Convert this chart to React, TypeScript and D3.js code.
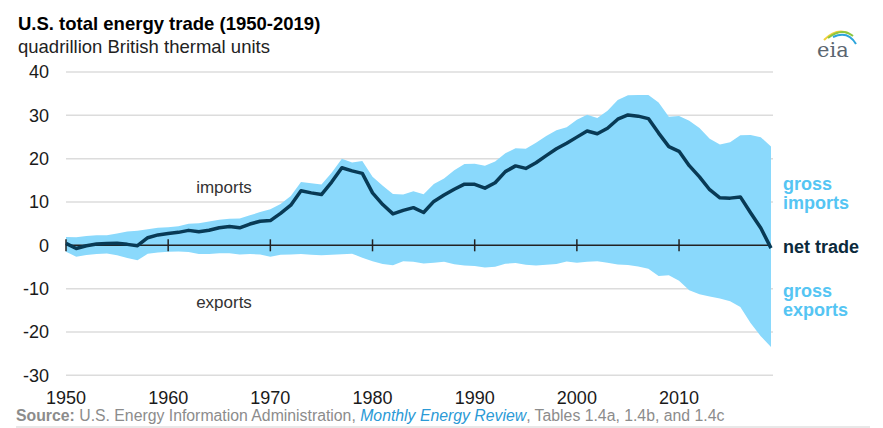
import * as d3 from "d3"

// gross imports, gross exports and net trade, quadrillion Btu, 1950-2019
const startYear = 1950
const imports = [
  1.91, 1.89, 2.15, 2.3, 2.32, 2.75, 3.17, 3.34, 3.72, 4.08,
  4.19, 4.41, 5.0, 5.12, 5.48, 5.89, 6.15, 6.16, 6.91, 7.68,
  8.34, 9.54, 11.39, 14.61, 14.3, 14.03, 16.76, 19.95, 19.11, 19.46,
  15.8, 13.72, 11.86, 11.75, 12.47, 11.78, 14.15, 15.4, 17.3, 18.77,
  18.82, 18.34, 19.37, 21.27, 22.39, 22.26, 23.7, 25.22, 26.58, 27.25,
  28.97, 30.16, 29.41, 31.06, 33.54, 34.66, 34.68, 34.68, 32.97, 29.69,
  29.87, 28.75, 27.07, 24.62, 23.24, 23.79, 25.38, 25.45, 24.94, 22.81,
]
const exports = [
  1.47, 2.62, 2.25, 1.99, 1.89, 2.29, 2.95, 3.44, 1.96, 1.68,
  1.48, 1.41, 1.54, 1.98, 1.99, 1.83, 1.83, 2.12, 2.0, 2.13,
  2.63, 2.15, 2.12, 2.03, 2.2, 2.32, 2.17, 2.05, 1.92, 2.86,
  3.7, 4.31, 4.61, 3.69, 3.79, 4.2, 4.02, 3.81, 4.37, 4.66,
  4.75, 5.14, 4.94, 4.26, 4.06, 4.51, 4.63, 4.51, 4.3, 3.72,
  4.01, 3.77, 3.67, 4.05, 4.43, 4.56, 4.87, 5.43, 7.07, 6.92,
  8.18, 10.37, 11.27, 11.79, 12.27, 12.9, 14.21, 17.94, 20.96, 23.46,
]
const netTrade = [
  0.45, -0.73, -0.11, 0.31, 0.43, 0.47, 0.22, -0.1, 1.76, 2.4,
  2.71, 2.99, 3.45, 3.14, 3.49, 4.06, 4.32, 4.04, 4.91, 5.55,
  5.71, 7.38, 9.27, 12.58, 12.1, 11.71, 14.59, 17.9, 17.19, 16.6,
  12.1, 9.41, 7.25, 8.06, 8.69, 7.58, 10.13, 11.59, 12.93, 14.11,
  14.07, 13.19, 14.44, 17.01, 18.33, 17.75, 19.07, 20.7, 22.28, 23.54,
  24.97, 26.39, 25.74, 27.01, 29.11, 30.1, 29.81, 29.25, 25.9, 22.77,
  21.69, 18.38, 15.8, 12.83, 10.97, 10.89, 11.17, 7.51, 3.98, -0.65,
]
const yTicks = [40, 30, 20, 10, 0, -10, -20, -30]
const xTicks = [1950, 1960, 1970, 1980, 1990, 2000, 2010]

const areaColor = "#8ad9fc"
const labelBlue = "#55c5f3"
const netColor = "#083a55"

interface Row {
  year: number
  imp: number
  exp: number
  net: number
}

const rows: Row[] = imports.map((v, i) => ({
  year: startYear + i,
  imp: v,
  exp: exports[i],
  net: netTrade[i],
}))

const App = () => {
  const width = 883
  const height = 428

  const x = d3.scaleLinear().domain([1950, 2019]).range([66, 771])
  const y = d3.scaleLinear().domain([40, -30]).range([72, 375.3])

  const area = d3
    .area<Row>()
    .x(d => x(d.year))
    .y0(d => y(-d.exp))
    .y1(d => y(d.imp))

  const line = d3
    .line<Row>()
    .x(d => x(d.year))
    .y(d => y(d.net))

  const font = "'Liberation Sans', Arial, sans-serif"

  return (
    <svg
      width={width}
      height={height}
      style={{ position: "absolute", left: 0, top: 0, fontFamily: font }}
    >
      <rect width={width} height={height} fill="#fff" />

      {/* Title */}
      <text x={18} y={30} fontSize={18.5} fontWeight="bold" fill="#000">
        U.S. total energy trade (1950-2019)
      </text>
      <text x={18} y={53} fontSize={18.5} fill="#222">
        quadrillion British thermal units
      </text>

      {/* eia logo */}
      <g>
        <path d="M824,40 Q836,28 848,33" fill="none" stroke="#f2d13a" strokeWidth={2} />
        <path d="M828,38 Q842,27 853,36" fill="none" stroke="#8cc641" strokeWidth={2} />
        <path d="M833,37 Q848,30 856,44" fill="none" stroke="#2da4db" strokeWidth={2} />
        <text
          x={817}
          y={57}
          fontSize={21}
          fill="#5b6670"
          fontFamily="'DejaVu Serif', 'Liberation Serif', serif"
        >
          eia
        </text>
      </g>

      {/* Gridlines and y labels */}
      {yTicks.map(t => (
        <g key={t}>
          {t !== 0 && (
            <line x1={66} x2={773} y1={y(t)} y2={y(t)} stroke="#dcdcdc" strokeWidth={1.5} />
          )}
          <text
            x={49}
            y={y(t)}
            dy="0.36em"
            textAnchor="end"
            fontSize={18}
            fill="#1a1a1a"
          >
            {t}
          </text>
        </g>
      ))}

      {/* Area of gross trade */}
      <path d={area(rows) || ""} fill={areaColor} />

      {/* Zero axis */}
      <line x1={66} x2={771} y1={y(0)} y2={y(0)} stroke="#222" strokeWidth={1.5} />
      {xTicks.map(t => (
        <g key={t}>
          <line x1={x(t)} x2={x(t)} y1={y(0) - 6} y2={y(0) + 6} stroke="#222" strokeWidth={1.5} />
          <text x={x(t)} y={404} textAnchor="middle" fontSize={18} fill="#1a1a1a">
            {t}
          </text>
        </g>
      ))}

      {/* Net trade line */}
      <path
        d={line(rows) || ""}
        fill="none"
        stroke={netColor}
        strokeWidth={3.5}
        strokeLinejoin="round"
      />

      {/* Inline labels */}
      <text x={224} y={193} textAnchor="middle" fontSize={17} fill="#333">
        imports
      </text>
      <text x={224} y={308} textAnchor="middle" fontSize={17} fill="#333">
        exports
      </text>

      {/* Right-side labels */}
      <g fontSize={18} fontWeight="bold">
        <text x={783} y={190} fill={labelBlue}>gross</text>
        <text x={783} y={209} fill={labelBlue}>imports</text>
        <text x={783} y={253} fill="#0b2a3c">net trade</text>
        <text x={783} y={297} fill={labelBlue}>gross</text>
        <text x={783} y={316} fill={labelBlue}>exports</text>
      </g>

      {/* Source */}
      <text x={16} y={421} fontSize={15.8} fill="#8c8c8c">
        <tspan fontWeight="bold">Source:</tspan>
        <tspan> U.S. Energy Information Administration, </tspan>
        <tspan fontStyle="italic" fill="#2b9ad6">Monthly Energy Review</tspan>
        <tspan>, Tables 1.4a, 1.4b, and 1.4c</tspan>
      </text>
      <line x1={16} x2={870} y1={427} y2={427} stroke="#e0e0e0" strokeWidth={1.5} />
    </svg>
  )
}

export default App
